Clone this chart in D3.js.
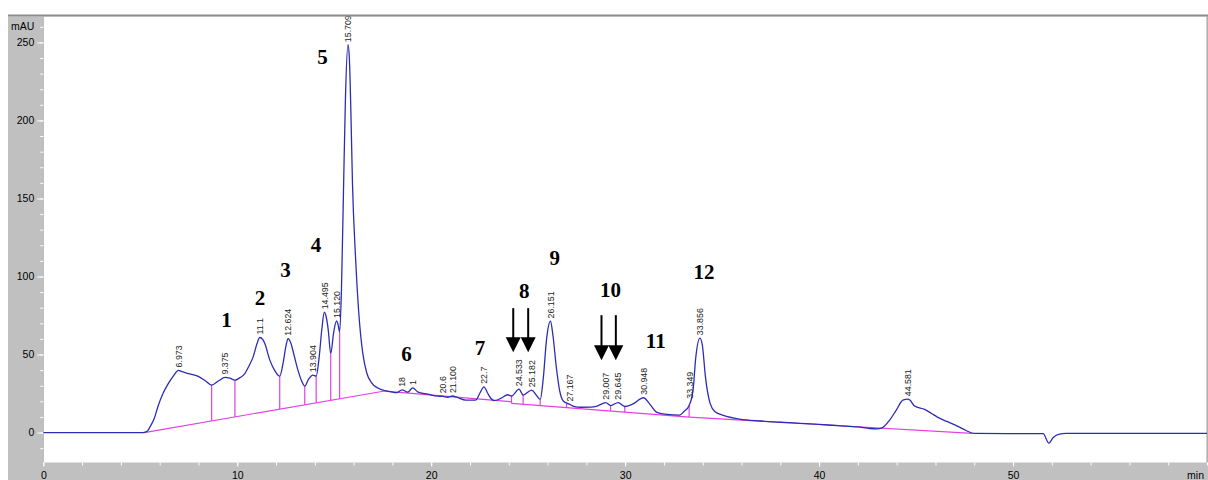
<!DOCTYPE html>
<html><head><meta charset="utf-8">
<script src="https://cdn.jsdelivr.net/npm/d3@7"></script>
<style>body{margin:0;background:#fff;} svg{display:block;}</style>
</head><body>
<svg id="chart" width="1208" height="480"></svg>
<script>
// ---------- DATA ----------
const signalTime = [0,5.15,5.37,5.52,5.72,5.92,6.17,6.45,6.72,6.97,7.15,7.48,7.99,8.32,8.68,9.02,9.38,9.62,9.88,10.12,10.39,10.62,10.82,11.02,11.16,11.32,11.42,11.68,11.92,12.19,12.37,12.52,12.62,12.77,12.92,13.13,13.32,13.48,13.67,13.9,14.07,14.22,14.36,14.49,14.57,14.69,14.82,14.97,15.12,15.2,15.28,15.37,15.47,15.58,15.71,15.78,15.86,15.94,16.1,16.27,16.47,16.67,16.92,17.25,17.6,17.9,18.22,18.5,18.79,19.05,19.3,19.82,20.33,20.6,20.85,21.1,21.35,21.78,22.3,22.52,22.72,22.9,23.07,23.25,23.59,23.95,24.14,24.53,24.74,25.18,25.42,25.62,25.78,25.95,26.15,26.27,26.45,26.62,26.82,27.12,27.35,27.72,28.22,28.56,29.0,29.25,29.64,29.98,30.38,30.95,31.24,31.64,32.16,32.81,33.02,33.3,33.5,33.64,33.856,33.98,34.14,34.38,34.64,35.07,35.9,37,38,39,40,41,42,42.6,43.0,43.22,43.64,43.98,44.32,44.58,44.68,44.92,45.44,45.78,46.1,46.55,47.1,47.58,48.0,51.55,51.85,52.05,52.3,52.75,60];
const signalMAU  = [0,0,1.0,4,9,17,25,31.5,36.5,39.8,39.0,37.8,36,33.5,30.4,33,35.3,34.8,33.6,35,37.8,43,48.5,57,60.9,59.5,57,46.4,40,36.1,45,56,60.2,57,50,40,33,29.7,34,36.8,36.1,48,66,77.2,75,66,50.6,64,71.5,69,64.5,90,150,215,248.5,240,205,160,112,76,51,38.5,32,28.5,26.8,26.2,25.6,27.4,25.9,28.6,26.1,24.6,23.3,23.2,22.6,23.4,22.5,20.8,20.8,25.5,29.3,25.5,22,20.5,21.9,24.2,23.4,27.8,24,27.2,24,21.2,35,60,71.3,63,42,27,20,18.2,16.8,16.2,16.3,17,19.2,17.3,19.2,16.7,18.2,22.3,18.7,12.9,11.6,11.2,13.3,17.4,27,48,60.5,56,35.7,18.7,13.3,11,8.6,7.4,6.6,5.9,5.2,4.4,3.6,2.6,2.3,2.8,8,14.4,20.8,21.4,20.8,17.0,14.8,12.4,9.9,7.3,4.3,1.3,-0.6,-0.7,-6.8,-3.5,-1.3,-0.6,-0.6];

// integration baselines: [startTime, endTime], [startValue, endValue]
const baselineTimes  = [[5.21,17.6],[17.6,24.14],[24.14,33.3],[33.3,47.9]];
const baselineValues = [[0,26.6],[26.6,19.7],[18.7,9.9],[9.9,-0.5]];

// peak separation drop lines (min)
const dropTimes = [8.68,9.88,12.19,13.48,14.07,14.82,15.28,18.79,24.14,24.74,25.62,26.98,29.25,29.98,33.3];

// retention time labels
const peakLabelTimes = [6.973,9.375,11.16,12.624,13.904,14.495,15.12,15.709,18.5,19.05,20.6,21.1,22.72,24.533,25.182,26.151,27.167,29.007,29.645,30.948,33.349,33.856,44.581];
const peakLabelTexts = ["6.973","9.375","11.1","12.624","13.904","14.495","15.120","15.709","18","1","20.6","21.100","22.7","24.533","25.182","26.151","27.167","29.007","29.645","30.948","33.349","33.856","44.581"];

// compound numbers (position in min / mAU)
const compoundNames  = ["1","2","3","4","5","6","7","8","9","10","11","12"];
const compoundTimes  = [9.45,11.17,12.49,14.06,14.4,18.73,22.51,24.8,26.37,29.25,31.58,34.06];
const compoundValues = [67.7,81.6,99.7,115.9,236.4,46,49.6,85.9,107.2,86.6,53.9,98.7];

// arrows (min, from mAU to tip mAU)
const arrowTimes = [24.23,25.0,28.78,29.52];
const arrowFrom  = [79.7,79.7,75.2,75.2];
const arrowTo    = [51.5,51.5,46.4,46.4];

// axes
const xMinorTicks = d3.range(0,61,2);
const xMajorTicks = [0,10,20,30,40,50];
const yMinorTicks = d3.range(-10,261,10);
const yMajorTicks = [0,50,100,150,200,250];

// ---------- LAYOUT ----------
const plot = {left:43.3, right:1207, top:16.5, bottom:462.5};
const svg = d3.select("#chart");
const x = d3.scaleLinear().domain([0,60]).range([plot.left, plot.right]);
const y = d3.scaleLinear().domain([-19.2,266.6]).range([plot.bottom, plot.top]);

svg.append("rect").attr("width",1208).attr("height",480).attr("fill","#fff");
svg.append("rect").attr("x",8).attr("y",plot.top).attr("width",1200).attr("height",480-plot.top).attr("fill","#c0c0c0");
svg.append("rect").attr("x",plot.left).attr("y",plot.top).attr("width",plot.right-plot.left).attr("height",plot.bottom-plot.top).attr("fill","#fff");
svg.append("line").attr("x1",8).attr("x2",1208).attr("y1",15.5).attr("y2",15.5).attr("stroke","#8a8a8a").attr("stroke-width",2);
svg.append("line").attr("x1",plot.right).attr("x2",plot.right).attr("y1",16).attr("y2",plot.bottom).attr("stroke","#a0a0a0").attr("stroke-width",1);
svg.append("line").attr("x1",plot.left).attr("x2",plot.left).attr("y1",16).attr("y2",plot.bottom).attr("stroke","#b4b4b4").attr("stroke-width",1);

svg.append("clipPath").attr("id","clip").append("rect")
  .attr("x",plot.left).attr("y",plot.top).attr("width",plot.right-plot.left).attr("height",plot.bottom-plot.top);

const font = "'Liberation Sans', Arial, sans-serif";

// y axis
function styleAxis(g){
  g.select(".domain").remove();
  g.selectAll(".tick line").attr("stroke","#fff").attr("stroke-width",1);
  g.selectAll(".tick text").attr("fill","#000").style("font-family",font).style("font-size","10.5px");
}
svg.append("g").attr("transform",`translate(${plot.left},0)`)
  .call(d3.axisLeft(y).tickValues(yMinorTicks).tickSize(3).tickFormat(""))
  .call(styleAxis);
svg.append("g").attr("transform",`translate(${plot.left},0)`)
  .call(d3.axisLeft(y).tickValues(yMajorTicks).tickSize(6).tickPadding(3))
  .call(styleAxis);
svg.append("text").attr("x",plot.left-9).attr("y",y(260)).attr("dy","0.32em")
  .attr("text-anchor","end").style("font-family",font).style("font-size","10.5px").text("mAU");

// x axis
svg.append("g").attr("transform",`translate(0,${plot.bottom})`)
  .call(d3.axisBottom(x).tickValues(xMinorTicks).tickSize(3).tickFormat(""))
  .call(styleAxis);
svg.append("g").attr("transform",`translate(0,${plot.bottom})`)
  .call(d3.axisBottom(x).tickValues(xMajorTicks).tickSize(4).tickPadding(5.5))
  .call(styleAxis);
svg.append("text").attr("x",x(60)-3).attr("y",plot.bottom+9.5).attr("dy","0.71em")
  .attr("text-anchor","end").style("font-family",font).style("font-size","10.5px").text("min");

// ---------- MARKS ----------
const g = svg.append("g").attr("clip-path","url(#clip)");
const signal = signalTime.map((t,i)=>({t, v:signalMAU[i]}));

function valueAt(t){
  const i = d3.bisectLeft(signalTime, t);
  if(i<=0) return signalMAU[0];
  if(i>=signalTime.length) return signalMAU[signalMAU.length-1];
  const t0=signalTime[i-1], t1=signalTime[i];
  return signalMAU[i-1] + (signalMAU[i]-signalMAU[i-1])*(t-t0)/(t1-t0);
}
function baseAt(t){
  let best = null;
  baselineTimes.forEach((tt,k)=>{
    if(t>=tt[0]-1e-9 && t<=tt[1]+1e-9){
      const v = baselineValues[k][0] + (baselineValues[k][1]-baselineValues[k][0])*(t-tt[0])/(tt[1]-tt[0]);
      if(best===null || v<best) best=v;
    }
  });
  return best;
}

// baselines
const magenta = "#e040e0";
baselineTimes.forEach((tt,k)=>{
  g.append("line").attr("x1",x(tt[0])).attr("x2",x(tt[1]))
    .attr("y1",y(baselineValues[k][0])).attr("y2",y(baselineValues[k][1]))
    .attr("stroke",magenta).attr("stroke-width",1.2);
});
// drop lines
g.selectAll(".drop").data(dropTimes).join("line")
  .attr("x1",d=>x(d)).attr("x2",d=>x(d))
  .attr("y1",d=>y(valueAt(d))).attr("y2",d=>y(baseAt(d)))
  .attr("stroke",magenta).attr("stroke-width",1.2);

// signal
g.append("path").datum(signal)
  .attr("d", d3.line().x(d=>x(d.t)).y(d=>y(d.v)).curve(d3.curveMonotoneX))
  .attr("fill","none").attr("stroke","#2d2db4").attr("stroke-width",1.3);

// peak labels
g.selectAll(".plabel").data(peakLabelTimes).join("text")
  .attr("transform",(d)=>`translate(${x(d)},${y(valueAt(d))-3}) rotate(-90)`)
  .attr("dy","0.35em")
  .attr("text-anchor","start")
  .style("font-family",font).style("font-size","8.8px").attr("fill","#222")
  .text((d,i)=>peakLabelTexts[i]);

// compound numbers
svg.selectAll(".cname").data(compoundNames).join("text")
  .attr("x",(d,i)=>x(compoundTimes[i])).attr("y",(d,i)=>y(compoundValues[i]))
  .attr("text-anchor","middle")
  .style("font-family","'Liberation Serif','Times New Roman',serif").style("font-size","21px").style("font-weight","bold")
  .attr("fill","#000").text(d=>d);

// arrows
const headH = 15, headW = 7.5;
arrowTimes.forEach((t,i)=>{
  const xx = x(t), y0 = y(arrowFrom[i]), y1 = y(arrowTo[i]);
  svg.append("line").attr("x1",xx).attr("x2",xx).attr("y1",y0).attr("y2",y1-headH+1)
    .attr("stroke","#000").attr("stroke-width",2);
  svg.append("path").attr("d",`M${xx-headW},${y1-headH}L${xx+headW},${y1-headH}L${xx},${y1}Z`).attr("fill","#000");
});
</script>
</body></html>
